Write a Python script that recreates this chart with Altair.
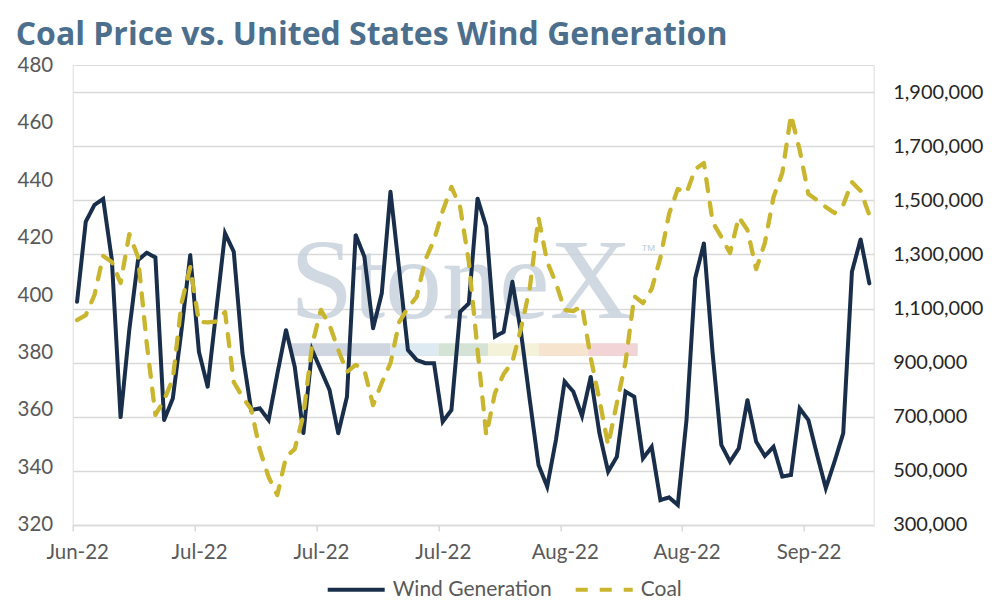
import json

import altair as alt
import pandas as pd

# x-axis tick labels, one every 14 days (category axis, 92 daily points)
tick_labels = ["Jun-22", "Jul-22", "Jul-22", "Jul-22", "Aug-22", "Aug-22", "Sep-22"]

# US wind generation (right axis)
wind_generation = [
    1125000, 1421000, 1483000, 1505000, 1279000, 697000, 1021000, 1279000,
    1306000, 1289000, 688000, 768000, 1021000, 1298000, 940000, 811000,
    1095000, 1378000, 1310000, 935000, 725000, 731000, 688000, 858000,
    1021000, 885000, 639000, 947000, 873000, 799000, 639000, 774000,
    1372000, 1292000, 1027000, 1156000, 1532000, 1242000, 947000, 910000,
    898000, 898000, 682000, 725000, 1088000, 1119000, 1507000, 1402000,
    996000, 1014000, 1199000, 1010000, 762000, 522000, 442000, 614000,
    830000, 793000, 703000, 848000, 639000, 497000, 552000, 793000,
    774000, 546000, 589000, 392000, 402000, 374000, 688000, 1212000,
    1341000, 935000, 596000, 534000, 583000, 762000, 608000, 555000,
    589000, 479000, 485000, 731000, 688000, 559000, 436000, 534000,
    639000, 1236000, 1356000, 1193000,
]

# coal price (left axis)
coal_price = [
    391.3, 393.0, 400.0, 413.6, 411.5, 404.2, 421.2, 413.2,
    383.3, 358.3, 363.5, 370.8, 397.2, 409.7, 390.6, 390.5,
    390.8, 394.1, 369.7, 364.5, 360.3, 346.1, 336.7, 330.4,
    343.7, 346.4, 358.3, 382.6, 394.8, 389.6, 380.9, 373.2,
    375.7, 373.9, 361.7, 369.4, 376.3, 390.6, 395.5, 399.3,
    412.2, 419.1, 429.2, 437.6, 430.6, 411.5, 380.9, 351.3,
    365.9, 372.5, 376.7, 388.5, 402.4, 426.8, 411.5, 404.2,
    394.8, 394.4, 396.2, 378.1, 363.5, 347.8, 362.4, 376.7,
    399.6, 397.2, 402.1, 412.9, 428.2, 436.9, 435.5, 443.8,
    445.9, 425.4, 420.2, 414.6, 427.1, 422.6, 409.0, 418.1,
    434.1, 442.4, 462.6, 450.4, 435.1, 433.0, 430.6, 428.5,
    431.3, 439.3, 436.2, 427.8,
]

series_names = ["Wind Generation", "Coal"]
series_colors = ["#182e4a", "#c9b52e"]

# StoneX watermark (logo, drawn in chart units)
band_start = [24.5, 36.0, 41.5, 47.2, 53.0, 58.7]
band_end = [36.0, 41.5, 47.2, 53.0, 58.7, 64.4]
band_colors = ["#cfd6e0", "#ddeaf2", "#d4e3d6", "#f5f2da", "#f6e4cf", "#f2d3d6"]

df = pd.DataFrame({"day": range(len(wind_generation)),
                   "wind": wind_generation, "coal": coal_price})

tick_positions = [-0.5 + 14 * k for k in range(len(tick_labels))]
label_expr = f"{json.dumps(tick_labels)}[round((datum.value + 0.5) / 14)]"

x_scale = alt.Scale(domain=[-0.5, len(df) - 0.5], nice=False, zero=False)
x_axis = alt.Axis(
    values=tick_positions, labelExpr=label_expr, title=None, grid=False,
    domainColor="#d9d9d9", domainWidth=1.5, tickColor="#d9d9d9", tickWidth=1.5,
    tickSize=6, labelFont="Lato", labelFontSize=20.5, labelColor="#595959",
    labelPadding=12, labelOffset=4.5, labelFlush=False, labelOverlap=False,
)
x_enc = alt.X("day:Q", scale=x_scale, axis=x_axis)

wind_scale = alt.Scale(domain=[300000, 2000000], nice=False, zero=False)
wind_axis = alt.Axis(
    orient="right", values=list(range(300000, 2000000, 200000)),
    labelExpr="format(datum.value, ',')",
    title=None, grid=True, gridColor="#d9d9d9", gridWidth=1.5, domain=False,
    ticks=False, labelFont="Lato", labelFontSize=20, labelColor="#262626",
    labelPadding=19, labelOverlap=False,
)
coal_scale = alt.Scale(domain=[320, 480], nice=False, zero=False)
coal_axis = alt.Axis(
    orient="left", values=list(range(320, 481, 20)), title=None, grid=False,
    domain=False, ticks=False, labelFont="Lato", labelFontSize=20.5,
    labelColor="#595959", labelPadding=20, labelOverlap=False,
)

legend = alt.Legend(
    orient="none", legendX=253, legendY=494, direction="horizontal", title=None,
    symbolType="stroke", symbolSize=3249, symbolStrokeWidth=4,
    labelFont="Lato", labelFontSize=21, labelColor="#595959", labelOffset=6,
    columnPadding=15,
)
color_enc = alt.Color("series:N", legend=legend,
                      scale=alt.Scale(domain=series_names, range=series_colors))
dash_enc = alt.StrokeDash("series:N", legend=legend,
                          scale=alt.Scale(domain=series_names, range=[[1, 0], [12, 12]]))

band_df = pd.DataFrame({"day": band_start, "day_end": band_end,
                        "wind": [972000] * 6, "wind_end": [925000] * 6,
                        "fill": band_colors})
band = alt.Chart(band_df).mark_rect().encode(
    x=x_enc, x2="day_end:Q",
    y=alt.Y("wind:Q", scale=wind_scale, axis=wind_axis), y2="wind_end:Q",
    fill=alt.Fill("fill:N", scale=None),
)

logo = alt.Chart(pd.DataFrame({"day": [44.1], "wind": [1065000], "t": ["StoneX"]})).mark_text(
    font="Liberation Serif", fontSize=114, color="#c8d2dd", opacity=0.85,
    align="center", baseline="alphabetic",
).encode(x=x_enc, y=alt.Y("wind:Q", scale=wind_scale, axis=wind_axis), text="t:N")

tm = alt.Chart(pd.DataFrame({"day": [65.6], "wind": [1294000], "t": ["™"]})).mark_text(
    font="Liberation Sans", fontSize=16, color="#c8d2dd", align="center",
    baseline="alphabetic",
).encode(x=x_enc, y=alt.Y("wind:Q", scale=wind_scale, axis=wind_axis), text="t:N")

wind_line = alt.Chart(df).transform_calculate(series="'Wind Generation'").mark_line(
    strokeWidth=4, strokeCap="round", strokeJoin="miter"
).encode(
    x=x_enc, y=alt.Y("wind:Q", scale=wind_scale, axis=wind_axis),
    color=color_enc, strokeDash=dash_enc,
)

coal_line = alt.Chart(df).transform_calculate(series="'Coal'").mark_line(
    strokeWidth=4.3, strokeCap="round", strokeJoin="round"
).encode(
    x=x_enc, y=alt.Y("coal:Q", scale=coal_scale, axis=coal_axis),
    color=color_enc, strokeDash=dash_enc,
)

chart = (
    alt.layer(alt.layer(band, logo, tm, wind_line), coal_line)
    .resolve_scale(y="independent")
    .properties(
        width=801, height=460,
        padding={"left": 64.7, "top": 57, "right": 112, "bottom": 80},
        autosize=alt.AutoSizeParams(type="none"),
        title=alt.TitleParams(
            "Coal Price vs. United States Wind Generation", anchor="start",
            frame="group", dx=-57, offset=3, font="Open Sans", fontSize=32,
            fontWeight="bold", color="#4b6f8c",
        ),
    )
    .configure_view(stroke=None)
    .configure(background="white")
)

chart.save("out.html", embed_options={"renderer": "svg", "actions": False})
